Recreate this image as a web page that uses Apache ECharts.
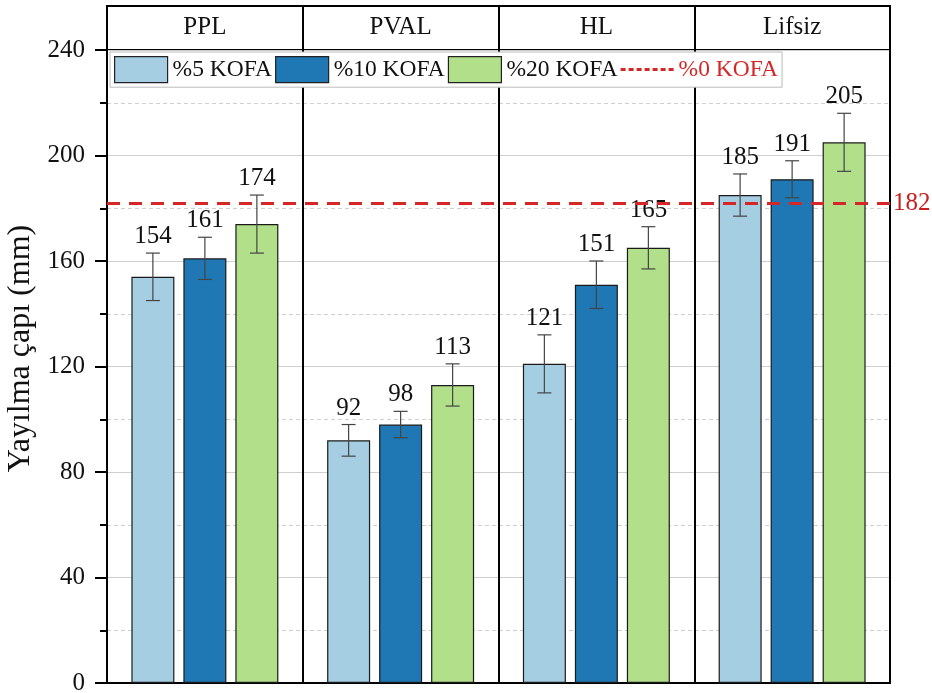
<!DOCTYPE html>
<html>
<head>
<meta charset="utf-8">
<script src="https://cdn.jsdelivr.net/npm/echarts@6/dist/echarts.min.js"></script>
<style>
  html, body { margin: 0; padding: 0; background: #fff; }
  #chart { width: 932px; height: 693px; }
</style>
</head>
<body>
<div id="chart"></div>
<script>
// Spread diameter by fibre type and KOFA ratio
const categories = ['PPL', 'PVAL', 'HL', 'Lifsiz'];
const seriesNames = ['%5 KOFA', '%10 KOFA', '%20 KOFA'];
const refName = '%0 KOFA';

const kofa5  = [154, 92, 121, 185];
const kofa10 = [161, 98, 151, 191];
const kofa20 = [174, 113, 165, 205];

// standard deviations (error bars)
const err5  = [9, 6, 11, 8];
const err10 = [8, 5, 9, 7];
const err20 = [11, 8, 8, 11];

// reference mix without KOFA
const refValue = 182;

const yMin = 0, yMax = 240, yStep = 40;

const FONT = '"Liberation Serif", "Times New Roman", serif';
const colors = ['#a6cee3', '#1f78b4', '#b2df8a'];
const RED = '#d62728';
const BAR_W = 43;
const BAR_GAP = 9;
const FS = 25;

const values = [kofa5, kofa10, kofa20];
const errors = [err5, err10, err20];

const chart = echarts.init(document.getElementById('chart'), null, { renderer: 'canvas' });

function barSeries(i) {
  return {
    type: 'bar',
    name: seriesNames[i],
    data: values[i],
    barWidth: BAR_W,
    barGap: (BAR_GAP / BAR_W * 100).toFixed(1) + '%',
    itemStyle: { color: colors[i], borderColor: '#1a1a1a', borderWidth: 1.2 },
    z: 3
  };
}

function errorSeries(i) {
  return {
    type: 'custom',
    name: seriesNames[i] + ' sd',
    xAxisIndex: 0,
    yAxisIndex: 0,
    z: 6,
    silent: true,
    data: values[i].map((v, k) => [k, v, errors[i][k]]),
    encode: { x: 0, y: 1 },
    renderItem: function (params, api) {
      const c = api.value(0), v = api.value(1), e = api.value(2);
      const off = (i - 1) * (BAR_W + BAR_GAP);
      const top = api.coord([c, v + e]);
      const bot = api.coord([c, v - e]);
      const x = top[0] + off;
      const cap = 7;
      const ls = { stroke: '#444', lineWidth: 1.2 };
      return {
        type: 'group',
        children: [
          { type: 'line', shape: { x1: x, y1: top[1], x2: x, y2: bot[1] }, style: ls },
          { type: 'line', shape: { x1: x - cap, y1: top[1], x2: x + cap, y2: top[1] }, style: ls },
          { type: 'line', shape: { x1: x - cap, y1: bot[1], x2: x + cap, y2: bot[1] }, style: ls },
          {
            type: 'text',
            style: {
              text: String(v), x: x, y: top[1] - 4,
              align: 'center', verticalAlign: 'bottom',
              fontSize: FS, fontFamily: FONT, fill: '#111'
            }
          }
        ]
      };
    }
  };
}

const dashIcon = 'path://' + [0, 1, 2, 3, 4, 5, 6].map(k => 'M' + (k * 8) + ',0h5v3h-5z').join(' ');

const option = {
  backgroundColor: '#fff',
  animation: false,
  textStyle: { fontFamily: FONT },
  grid: [
    { left: 107, right: 42, top: 50, bottom: 10, outerBoundsMode: 'none', containLabel: false, show: true, borderColor: '#000', borderWidth: 2, backgroundColor: 'transparent' },
    { left: 107, right: 42, top: 6, height: 44, outerBoundsMode: 'none', containLabel: false, show: true, borderColor: '#000', borderWidth: 2, backgroundColor: 'transparent' }
  ],
  legend: {
    left: 110, top: 52,
    padding: [4, 4, 4, 4],
    itemGap: 3,
    itemWidth: 53,
    itemHeight: 26,
    borderColor: '#bbb', borderWidth: 1, backgroundColor: '#fff',
    textStyle: { fontSize: 23.5, fontFamily: FONT, color: '#111', padding: [2, 0, 0, 0] },
    selectedMode: false,
    data: [
      { name: seriesNames[0], icon: 'rect', itemStyle: { borderColor: '#222', borderWidth: 1.2 } },
      { name: seriesNames[1], icon: 'rect', itemStyle: { borderColor: '#222', borderWidth: 1.2 } },
      { name: seriesNames[2], icon: 'rect', itemStyle: { borderColor: '#222', borderWidth: 1.2 } },
      { name: refName, icon: dashIcon, itemStyle: { color: RED, borderWidth: 0 }, textStyle: { color: RED } }
    ],
    z: 10
  },
  xAxis: [
    {
      type: 'category', gridIndex: 0, data: categories,
      axisLine: { show: true, lineStyle: { color: '#000', width: 2 } },
      axisTick: { show: false },
      axisLabel: { show: false },
      splitLine: { show: true, lineStyle: { color: '#000', width: 2 } }
    },
    {
      type: 'category', gridIndex: 1, data: categories, position: 'top',
      axisLine: { show: false },
      axisTick: { show: false },
      axisLabel: { show: true, inside: true, margin: 9, fontSize: FS, fontFamily: FONT, color: '#111' },
      splitLine: { show: true, lineStyle: { color: '#000', width: 2 } }
    }
  ],
  yAxis: [
    {
      type: 'value', gridIndex: 0, min: yMin, max: yMax, interval: yStep,
      name: 'Yayılma çapı (mm)', nameLocation: 'middle', nameGap: 62,
      nameTextStyle: { fontSize: 32, fontFamily: FONT, color: '#111', padding: [0, 0, 0, 36] },
      axisLine: { show: true, lineStyle: { color: '#000', width: 2 } },
      axisTick: { show: true, inside: false, length: 12, lineStyle: { color: '#000', width: 2 } },
      minorTick: { show: true, splitNumber: 2, length: 7, lineStyle: { color: '#000', width: 2 } },
      axisLabel: { fontSize: FS, fontFamily: FONT, color: '#111', margin: 22 },
      splitLine: { show: true, lineStyle: { color: '#cfcfcf', width: 1 } },
      minorSplitLine: { show: true, lineStyle: { color: '#cfcfcf', width: 1, type: [4, 3] } }
    },
    { type: 'value', gridIndex: 1, min: 0, max: 1, show: false }
  ],
  series: [
    barSeries(0), barSeries(1), barSeries(2),
    errorSeries(0), errorSeries(1), errorSeries(2),
    {
      type: 'line', name: refName, data: [],
      itemStyle: { color: RED },
      lineStyle: { color: RED, width: 3, type: [13, 9] },
      markLine: {
        silent: true,
        symbol: 'none',
        z: 7,
        lineStyle: { color: RED, width: 3, type: [13, 9] },
        label: { show: true, position: 'end', distance: 3, formatter: String(refValue), fontSize: FS, fontFamily: FONT, color: '#c81e1e' },
        data: [{ yAxis: refValue }]
      }
    }
  ]
};

chart.setOption(option);
</script>
</body>
</html>
